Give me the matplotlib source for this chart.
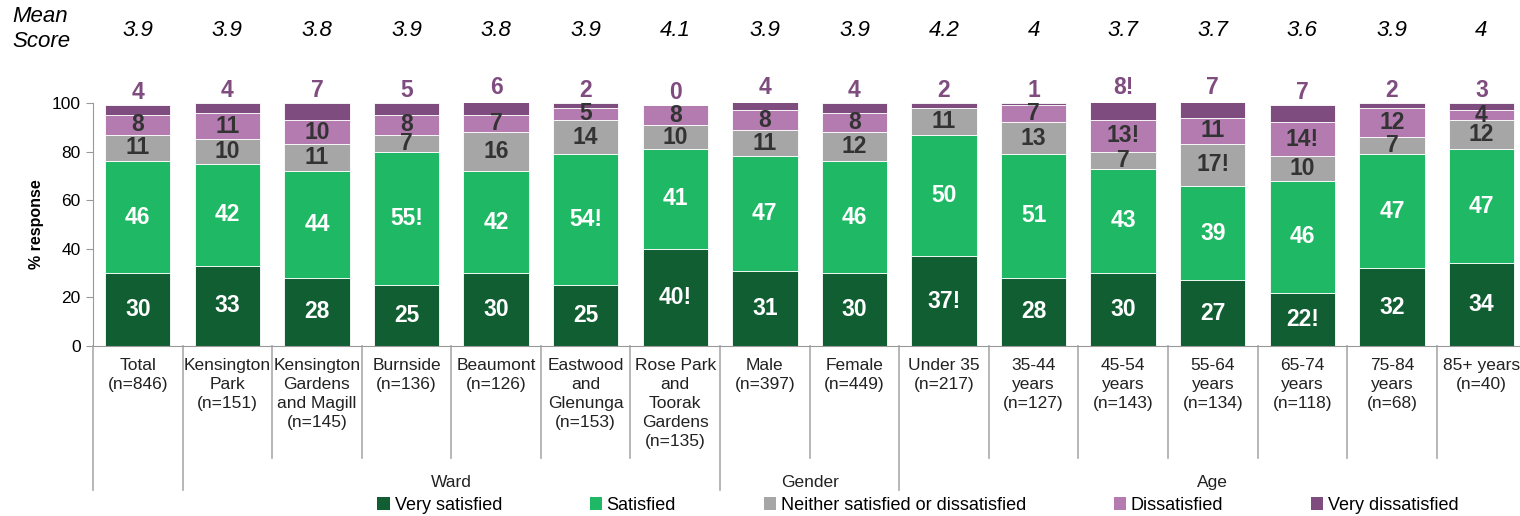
import matplotlib.pyplot as plt
import matplotlib.transforms as mtransforms
from matplotlib.patches import Patch
import numpy as np

plt.rcParams['font.family'] = ['Liberation Sans', 'DejaVu Sans']

# --- datos ---
grupos = ['Total\n(n=846)', 'Kensington\nPark\n(n=151)', 'Kensington\nGardens\nand Magill\n(n=145)',
          'Burnside\n(n=136)', 'Beaumont\n(n=126)', 'Eastwood\nand\nGlenunga\n(n=153)',
          'Rose Park\nand\nToorak\nGardens\n(n=135)', 'Male\n(n=397)', 'Female\n(n=449)',
          'Under 35\n(n=217)', '35-44\nyears\n(n=127)', '45-54\nyears\n(n=143)',
          '55-64\nyears\n(n=134)', '65-74\nyears\n(n=118)', '75-84\nyears\n(n=68)',
          '85+ years\n(n=40)']

media = ['3.9', '3.9', '3.8', '3.9', '3.8', '3.9', '4.1', '3.9', '3.9', '4.2',
         '4', '3.7', '3.7', '3.6', '3.9', '4']

muy_satisfecho = [30, 33, 28, 25, 30, 25, 40, 31, 30, 37, 28, 30, 27, 22, 32, 34]
satisfecho = [46, 42, 44, 55, 42, 54, 41, 47, 46, 50, 51, 43, 39, 46, 47, 47]
neutral = [11, 10, 11, 7, 16, 14, 10, 11, 12, 11, 13, 7, 17, 10, 7, 12]
insatisfecho = [8, 11, 10, 8, 7, 5, 8, 8, 8, 0, 7, 13, 11, 14, 12, 4]
muy_insatisfecho = [4, 4, 7, 5, 6, 2, 0, 4, 4, 2, 1, 8, 7, 7, 2, 3]

# diferencias significativas (se marcan con "!")
sig_muy_sat = [6, 9, 13]
sig_sat = [3, 5]
sig_neutral = [12]
sig_insat = [11, 13]
sig_muy_insat = [11]

series = [
    ('Very satisfied', muy_satisfecho, sig_muy_sat, '#115E33', 'white'),
    ('Satisfied', satisfecho, sig_sat, '#1FB864', 'white'),
    ('Neither satisfied or dissatisfied', neutral, sig_neutral, '#A6A6A6', '#333333'),
    ('Dissatisfied', insatisfecho, sig_insat, '#B37BB0', '#333333'),
    ('Very dissatisfied', muy_insatisfecho, sig_muy_insat, '#7E4C7E', '#7E4C7E'),
]

x = np.arange(len(grupos))
W, H = 1520, 516
fig = plt.figure(figsize=(W / 100, H / 100), dpi=100)
ax = fig.add_axes([93 / W, 170 / H, (W - 93) / W, 243 / H])

base = np.zeros(len(grupos))
for k, (nombre, vals, sig, color, col_txt) in enumerate(series):
    vals = np.array(vals, dtype=float)
    ax.bar(x, vals, bottom=base, width=0.73, color=color, edgecolor='white',
           linewidth=0.6, label=nombre)
    for i, v in enumerate(vals):
        txt = f'{int(v)}' + ('!' if i in sig else '')
        if k < 4:
            if v > 0:
                ax.text(i, base[i] + v / 2, txt, ha='center', va='center',
                        fontsize=16.5, fontweight='bold', color=col_txt)
        else:
            # muy insatisfecho va encima de la barra
            ax.text(i, base[i] + v + 0.5, txt, ha='center', va='bottom',
                    fontsize=16.5, fontweight='bold', color=col_txt)
    base += vals

# ejes
ax.set_xlim(-0.5, 15.43)
ax.set_ylim(0, 100)
ax.set_yticks(range(0, 101, 20))
ax.tick_params(axis='y', labelsize=12.5, length=5, color='#999999', pad=4)
ax.set_xticks([])
for s in ['top', 'right']:
    ax.spines[s].set_visible(False)
ax.spines['left'].set_color('#999999')
ax.spines['bottom'].set_color('#999999')
fig.text(36 / W, 1 - 224 / H, '% response', rotation=90, ha='center', va='center',
         fontsize=11.5, fontweight='bold')

# etiquetas de categorias y separadores
trans = mtransforms.blended_transform_factory(ax.transData, ax.transAxes)
for i, g in enumerate(grupos):
    ax.text(i, -0.05, g, ha='center', va='top', fontsize=12.5, linespacing=1.33,
            transform=trans, color='#222222')

largas = [-0.5, 0.5, 6.5, 8.5]
for b in np.arange(-0.5, 15.0, 1.0):
    fondo = -0.593 if b in largas else -0.461
    ax.plot([b, b], [0, fondo], color='#aaaaaa', lw=1.2, transform=trans, clip_on=False)

for lbl, xc in [('Ward', 3.5), ('Gender', 7.5), ('Age', 12)]:
    ax.text(xc, -0.56, lbl, ha='center', va='center', fontsize=12.5,
            transform=trans, color='#222222')

# fila de puntuacion media
for i, m in enumerate(media):
    ax.text(i, 1 - 30 / H, m, ha='center', va='center', fontsize=16, style='italic',
            transform=mtransforms.blended_transform_factory(ax.transData, fig.transFigure))
fig.text(12 / W, 1 - 29 / H, 'Mean\nScore', ha='left', va='center', fontsize=16,
         style='italic', linespacing=1.2)

# leyenda
handles = [Patch(facecolor=c, edgecolor='none') for _, _, _, c, _ in series]
fig.legend(handles, [s[0] for s in series], loc='center', bbox_to_anchor=(918 / W, 1 - 505 / H),
           ncol=5, frameon=False, fontsize=13, handlelength=0.7, handleheight=0.7,
           handletextpad=0.25, columnspacing=4.85, borderaxespad=0)

fig.savefig('out.png', dpi=100)
